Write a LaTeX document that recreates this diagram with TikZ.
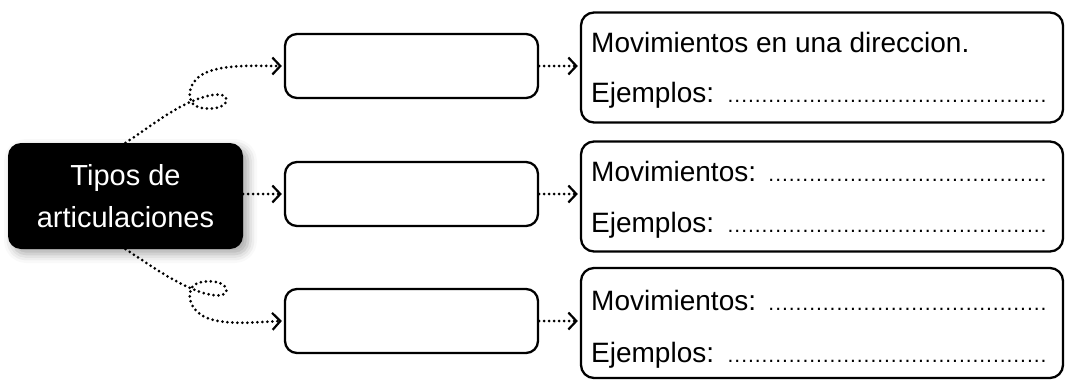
\documentclass[tikz,border=0pt]{standalone}
\usepackage{fontspec}
\setmainfont{Liberation Sans}
\usetikzlibrary{arrows.meta,shadows.blur}
\newcommand\leaderdots{\hspace{7pt}\leaders\hbox to 6.8pt{\hss\fontsize{21}{21}\selectfont.\hss}\hfill}
\tikzset{
  midbox/.style={draw, line width=2.3pt, rounded corners=12pt, minimum width=253pt, minimum height=64pt, inner sep=0pt},
  answerbox/.style={draw, line width=2.3pt, rounded corners=13pt, minimum width=482pt, minimum height=110pt, inner sep=0pt},
  titlebox/.style={fill=black, rounded corners=13pt, minimum width=235pt, minimum height=106pt, inner sep=0pt,
    blur shadow={shadow xshift=5pt, shadow yshift=-5pt, shadow blur radius=9pt, shadow opacity=35}},
  dotlink/.style={line width=3pt, line cap=round, dash pattern=on 0pt off 5pt,
    -{Straight Barb[length=8pt, width=17pt, line width=2.2pt]}},
  linetext/.style={anchor=base west, inner sep=0pt, font=\fontsize{28}{28}\selectfont},
}
\begin{document}
\begin{tikzpicture}[x=1pt, y=-1pt]
\useasboundingbox (0,0) rectangle (1066,386);
% title box
\node[titlebox, text=white, align=center, font=\fontsize{29}{42}\selectfont] (tipos) at (125.5,196) {Tipos de\\articulaciones};
% middle boxes
\node[midbox] (m1) at (411.5,66) {};
\node[midbox] (m2) at (411.5,194) {};
\node[midbox] (m3) at (411.5,321) {};
% answer boxes
\node[answerbox] (r1) at (822,67.5) {};
\node[answerbox] (r2) at (822,196.5) {};
\node[answerbox] (r3) at (822,323) {};
% texts
\node[linetext] (t1a) at (591,52) {Movimientos en una direccion.};
\node[linetext] (t1b) at (591,102) {\makebox[458pt][l]{Ejemplos:\leaderdots}};
\node[linetext] (t2a) at (591,181) {\makebox[458pt][l]{Movimientos:\leaderdots}};
\node[linetext] (t2b) at (591,232) {\makebox[458pt][l]{Ejemplos:\leaderdots}};
\node[linetext] (t3a) at (591,310) {\makebox[458pt][l]{Movimientos:\leaderdots}};
\node[linetext] (t3b) at (591,362) {\makebox[458pt][l]{Ejemplos:\leaderdots}};
% connectors
\draw[dotlink] (tipos.north) .. controls (150,127) and (170,110) .. (195,100)
  .. controls (215,92) and (229,93) .. (226,102)
  .. controls (223,110) and (200,111) .. (193,104)
  .. controls (186,96) and (190,80) .. (205,73)
  .. controls (225,64) and (255,66) .. ([xshift=-2pt]m1.west);
\draw[dotlink] (tipos.south) .. controls (150,265) and (170,280) .. (195,290)
  .. controls (215,298) and (229,297) .. (226,288)
  .. controls (223,280) and (200,279) .. (193,286)
  .. controls (186,294) and (190,310) .. (205,317)
  .. controls (225,326) and (255,322) .. ([xshift=-2pt]m3.west);
\draw[dotlink] (tipos.east |- m2.west) -- ([xshift=-2pt]m2.west);
\draw[dotlink] (m1.east) -- ([xshift=-2pt]m1.east -| r1.west);
\draw[dotlink] (m2.east) -- ([xshift=-2pt]m2.east -| r2.west);
\draw[dotlink] (m3.east) -- ([xshift=-2pt]m3.east -| r3.west);
\end{tikzpicture}
\end{document}
